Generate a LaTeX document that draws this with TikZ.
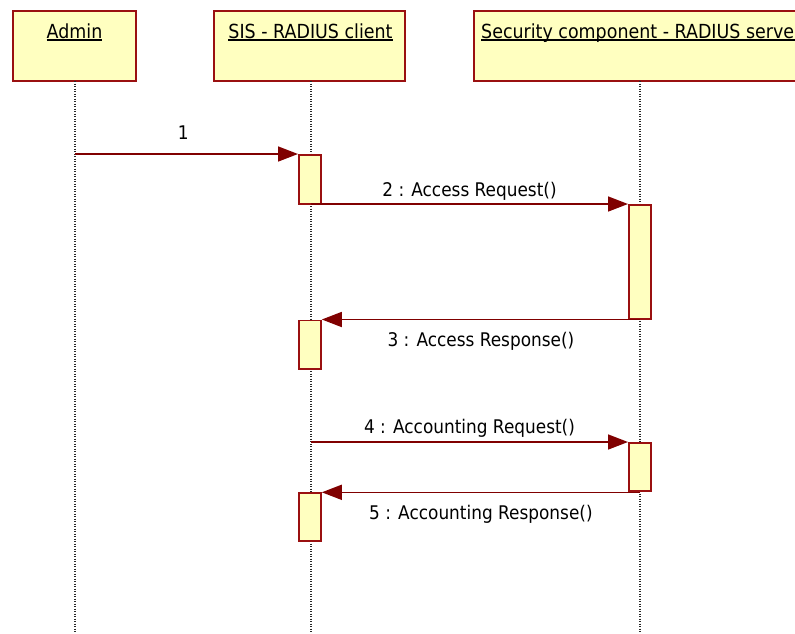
\documentclass[tikz,border=0pt]{standalone}
\usepackage{fontspec}
\setmainfont{DejaVu Sans}[FakeStretch=0.9]
\usetikzlibrary{arrows.meta}
\definecolor{umlred}{HTML}{800000}
\definecolor{umlframe}{HTML}{9A1010}
\definecolor{umlfill}{HTML}{FFFFC0}
% underlined object name with a fixed rule just below the baseline
\newcommand\objname[1]{\setbox0=\hbox{#1}\leavevmode\rlap{\vrule height -1pt depth 2.8pt width \wd0}\box0}
\begin{document}
\begin{tikzpicture}[x=1pt,y=-1pt,
  headbox/.style={draw=umlframe,fill=umlfill,line width=2pt,inner sep=0pt,anchor=north west},
  headlbl/.style={inner sep=0pt,font=\fontsize{19.4}{23}\selectfont},
  lifeline/.style={draw=black!85,line width=1.1pt,dash pattern=on 1.2pt off 1.3pt},
  actbox/.style={draw=umlframe,fill=umlfill,line width=1.8pt,inner sep=0pt,minimum width=22pt,anchor=north west},
  msg/.style={draw=umlred,line width=1.6pt,-{Triangle[length=20pt,width=15pt]}},
  msglbl/.style={inner sep=0pt,anchor=base,font=\fontsize{18.8}{22}\selectfont}]
\useasboundingbox (0,0) rectangle (795,633);
\clip (0,0) rectangle (795,633);

% object heads
\node[headbox,minimum width=123pt,minimum height=70pt] (admin) at (12,10) {};
\node[headbox,minimum width=191pt,minimum height=70pt] (client) at (213,10) {};
\node[headbox,minimum width=360pt,minimum height=70pt] (server) at (473,10) {};
\node[headlbl,anchor=base] (adminlbl) at (74.5,38) {\objname{Admin}};
\node[headlbl,anchor=base] (clientlbl) at (310.5,38) {\objname{SIS - RADIUS client}};
\node[headlbl,anchor=base west] (serverlbl) at (481,38) {\objname{Security component - RADIUS server}};

% lifelines
\coordinate (adminTop) at (75,81);   \coordinate (adminEnd) at (75,633);
\coordinate (clientTop) at (311,81); \coordinate (clientEnd) at (311,633);
\coordinate (serverTop) at (640,81); \coordinate (serverEnd) at (640,633);
\draw[lifeline] (adminTop) -- (adminEnd);
\draw[lifeline] (clientTop) -- (clientEnd);
\draw[lifeline] (serverTop) -- (serverEnd);

% activation bars
\node[actbox,minimum height=49pt] (c1) at (298,154) {};
\node[actbox,minimum height=114pt] (s1) at (628,204) {};
\node[actbox,minimum height=48.5pt] (c2) at (298,319.5) {};
\node[actbox,minimum height=48pt] (s2) at (628,442) {};
\node[actbox,minimum height=48pt] (c3) at (298,492.3) {};

% messages
\coordinate (m1s) at (75,154);
\coordinate (m2s) at (311,204);
\coordinate (m3s) at (640,319.5);
\coordinate (m4s) at (311,442);
\coordinate (m5s) at (640,492.3);
\draw[msg] (m1s) -- (c1.north west) node[msglbl,pos=0.485,yshift=15pt] {1};
\draw[msg] (m2s) -- (s1.north west) node[msglbl,midway,yshift=8pt] {2 : Access Request()};
\draw[msg] (m3s) -- (c2.north east) node[msglbl,midway,yshift=-27pt] {3 : Access Response()};
\draw[msg] (m4s) -- (s2.north west) node[msglbl,midway,yshift=8.4pt] {4 : Accounting Request()};
\draw[msg] (m5s) -- (c3.north east) node[msglbl,midway,yshift=-27pt] {5 : Accounting Response()};
\end{tikzpicture}
\end{document}
